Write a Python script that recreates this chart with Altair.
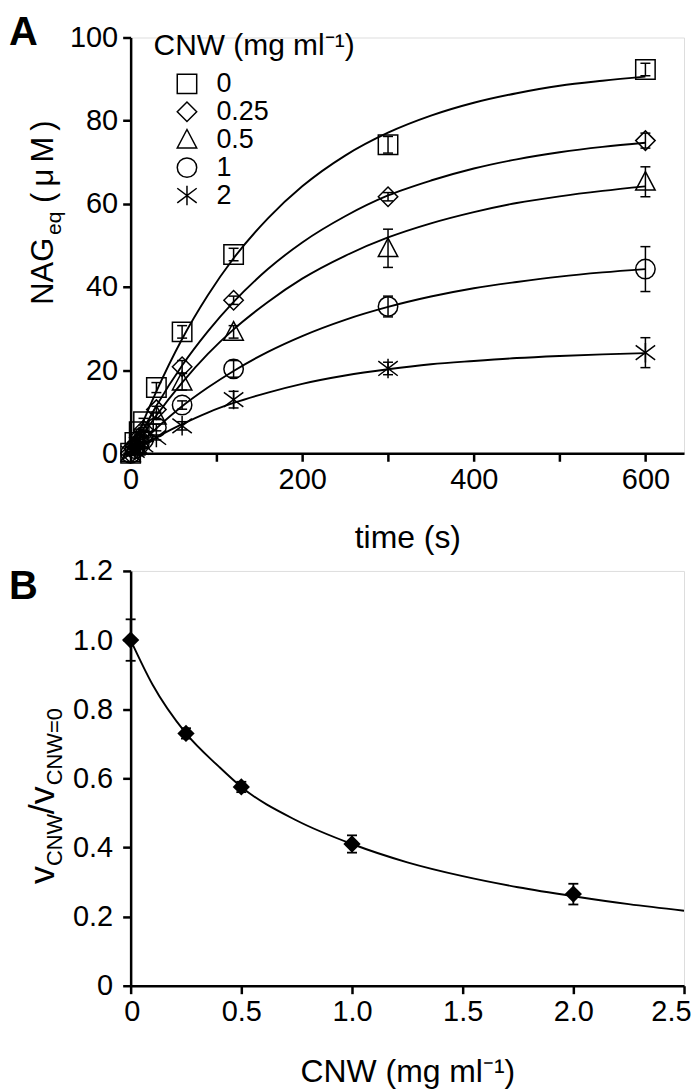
import altair as alt
import pandas as pd

FONT = "Liberation Sans"

# ---------------- Panel A data ----------------
conc_labels = ["0", "0.25", "0.5", "1", "2"]
times = [0, 5, 10, 15, 30, 60, 120, 300, 600]
nag_c0 = [0, 2.6, 5.2, 7.6, 15.8, 29.2, 47.8, 74.2, 92.3]
nag_c025 = [0, 1.9, 3.8, 5.6, 10.5, 20.8, 36.8, 61.7, 75.2]
nag_c05 = [0, 1.6, 3.2, 4.8, 9.0, 17.2, 29.2, 49.3, 65.3]
nag_c1 = [0, 1.1, 2.2, 3.3, 6.2, 11.6, 20.3, 35.3, 44.3]
nag_c2 = [0, 0.7, 1.4, 2.0, 3.8, 6.6, 12.9, 20.4, 24.2]
err_c0 = [0.4, 0.5, 0.6, 0.8, 1.2, 1.5, 1.5, 2.0, 1.5]
err_c025 = [0.4, 0.4, 0.5, 0.6, 0.8, 1.5, 1.0, 1.0, 1.8]
err_c05 = [0.4, 0.4, 0.5, 0.6, 0.9, 2.0, 1.5, 4.6, 3.6]
err_c1 = [0.4, 0.4, 0.5, 0.6, 0.8, 1.0, 2.0, 2.5, 5.4]
err_c2 = [0.3, 0.4, 0.4, 0.5, 0.6, 1.0, 2.0, 1.5, 3.6]

fit_t = [0, 15, 30, 60, 90, 120, 160, 200, 250, 300, 350, 400, 450, 500, 550, 600]
fit_c0 = [0, 7.8, 14.9, 27.5, 38.0, 46.9, 56.5, 64.2, 71.6, 77.1, 81.2, 84.3, 86.6, 88.4, 89.6, 90.6]
fit_c025 = [0, 5.9, 11.4, 21.1, 29.3, 36.4, 44.3, 50.7, 57.0, 62.0, 65.6, 68.5, 70.7, 72.4, 73.7, 74.7]
fit_c05 = [0, 4.7, 9.1, 17.0, 23.9, 29.8, 36.4, 42.0, 47.5, 51.9, 55.3, 58.0, 60.2, 61.8, 63.1, 64.2]
fit_c1 = [0, 3.1, 6.0, 11.3, 15.8, 19.8, 24.4, 28.2, 32.1, 35.2, 37.7, 39.7, 41.2, 42.5, 43.5, 44.3]
fit_c2 = [0, 2.0, 3.8, 7.0, 9.8, 12.1, 14.6, 16.7, 18.7, 20.2, 21.4, 22.2, 22.9, 23.4, 23.8, 24.1]

# ---------------- Panel B data ----------------
cnw = [0, 0.25, 0.5, 1.0, 2.0]
ratio = [1.0, 0.73, 0.575, 0.41, 0.265]
ratio_err = [0.06, 0.015, 0.015, 0.025, 0.03]
fitB_x = [0, 0.1, 0.25, 0.4, 0.5, 0.75, 1.0, 1.25, 1.5, 1.75, 2.0, 2.25, 2.5]
fitB_y = [1.0, 0.87, 0.73, 0.633, 0.575, 0.478, 0.41, 0.357, 0.317, 0.285, 0.259, 0.236, 0.217]

shape_range = [
    "square",
    "diamond",
    "M0,-1.05L-1,0.85L1,0.85Z",
    "circle",
    "M-1,-0.75L1,0.75M-1,0.75L1,-0.75M0,-1L0,1",
]

# ---------------- tables ----------------
rowsA = []
for lab, vals, errs in zip(conc_labels, [nag_c0, nag_c025, nag_c05, nag_c1, nag_c2],
                           [err_c0, err_c025, err_c05, err_c1, err_c2]):
    for t, v, e in zip(times, vals, errs):
        rowsA.append(dict(series=lab, t=t, v=v, lo=v - e, hi=v + e))
dfA = pd.DataFrame(rowsA)
capsA = pd.concat([dfA.assign(c=dfA["lo"]), dfA.assign(c=dfA["hi"])], ignore_index=True)

rowsF = []
for lab, vals in zip(conc_labels, [fit_c0, fit_c025, fit_c05, fit_c1, fit_c2]):
    for t, v in zip(fit_t, vals):
        rowsF.append(dict(series=lab, t=t, v=v))
fitA = pd.DataFrame(rowsF)

dfB = pd.DataFrame(dict(c=cnw, r=ratio, lo=[r - e for r, e in zip(ratio, ratio_err)],
                        hi=[r + e for r, e in zip(ratio, ratio_err)]))
capsB = pd.concat([dfB.assign(k=dfB["lo"]), dfB.assign(k=dfB["hi"])], ignore_index=True)
fitB = pd.DataFrame(dict(c=fitB_x, r=fitB_y))

AX = dict(domainColor="black", domainWidth=2.5, tickColor="black", tickWidth=2.5,
          tickSize=8, labelColor="black", labelFont=FONT, labelFontSize=29,
          titleFont=FONT, titleColor="black", titleFontWeight="normal", grid=False)

# ---------------- Panel A ----------------
WA, HA = 555, 417
xA_scale = alt.Scale(domain=[0, 645], nice=False, zero=False)
yA_scale = alt.Scale(domain=[0, 100], nice=False)
xA_axis = alt.Axis(values=[0, 100, 200, 300, 400, 500, 600],
                   labelExpr="datum.value % 200 == 0 ? datum.label : ''", labelFlush=False,
                   title="time (s)", titleFontSize=32, titlePadding=28, labelPadding=4, **AX)
yA_axis = alt.Axis(values=[0, 20, 40, 60, 80, 100], title=None, labelPadding=5,
                   labelFlush=False, **AX)


def XA(field="t"):
    return alt.X(f"{field}:Q", scale=xA_scale, axis=xA_axis)


def YA(field):
    return alt.Y(f"{field}:Q", scale=yA_scale, axis=yA_axis)


linesA = alt.Chart(fitA).mark_line(color="black", strokeWidth=1.9, interpolate="monotone").encode(
    x=XA(), y=YA("v"), detail="series:N")
rulesA = alt.Chart(dfA).mark_rule(color="black", strokeWidth=1.5).encode(
    x=XA(), y=YA("lo"), y2="hi:Q")
capsA_l = alt.Chart(capsA).mark_point(shape="M-1,0L1,0", size=100, color="black",
                                      strokeWidth=1.5, opacity=1).encode(x=XA(), y=YA("c"))
pointsA = alt.Chart(dfA).mark_point(filled=False, color="black", strokeWidth=1.5, size=380,
                                    opacity=1).encode(
    x=XA(), y=YA("v"),
    shape=alt.Shape("series:N", scale=alt.Scale(domain=conc_labels, range=shape_range),
                    sort=conc_labels,
                    legend=alt.Legend(title="CNW (mg ml⁻¹)", orient="none", legendX=23, legendY=-6,
                                      titleFont=FONT, titleFontSize=30, titleFontWeight="normal",
                                      titleColor="black", titleLimit=400, labelFont=FONT,
                                      labelFontSize=27, labelColor="black", labelLimit=200,
                                      symbolSize=380, symbolStrokeWidth=1.5,
                                      symbolStrokeColor="black", symbolFillColor="transparent",
                                      symbolOffset=20, labelOffset=16, rowPadding=0,
                                      titlePadding=9, padding=0)))


def txt(s, x, y, size, angle=None, weight="normal", align="left"):
    kw = dict(fontSize=size, font=FONT, color="black", align=align, baseline="alphabetic",
              fontWeight=weight)
    if angle is not None:
        kw["angle"] = angle
    return alt.Chart(pd.DataFrame({"s": [s]})).mark_text(**kw).encode(
        text="s:N", x=alt.value(x), y=alt.value(y))


labelA = txt("A", -122, 8, 40, weight="bold")
ytA = [txt("NAG", -78, 268, 31, angle=270),
       txt("eq", -70, 198, 21, angle=270),
       txt("(\u2009μ\u2009M\u2009)", -78, 166, 31, angle=270)]

panelA = alt.layer(linesA, rulesA, capsA_l, pointsA, labelA, *ytA).properties(width=WA, height=HA)

# ---------------- Panel B ----------------
WB, HB = 555, 416
xB_scale = alt.Scale(domain=[0, 2.5], nice=False, zero=False)
yB_scale = alt.Scale(domain=[0, 1.2], nice=False)
xB_axis = alt.Axis(values=[0, 0.5, 1.0, 1.5, 2.0, 2.5],
                   labelExpr="datum.value == 0 ? '0' : format(datum.value, '.1f')",
                   labelFlush=True, labelFlushOffset=7,
                   title="CNW (mg ml⁻¹)", titleFontSize=32, titlePadding=30, labelPadding=4, **AX)
yB_axis = alt.Axis(values=[0, 0.2, 0.4, 0.6, 0.8, 1.0, 1.2],
                   labelExpr="datum.value == 0 ? '0' : format(datum.value, '.1f')",
                   title=None, labelPadding=10, labelFlush=False, **AX)


def XB(field="c"):
    return alt.X(f"{field}:Q", scale=xB_scale, axis=xB_axis)


def YB(field):
    return alt.Y(f"{field}:Q", scale=yB_scale, axis=yB_axis)


lineB = alt.Chart(fitB).mark_line(color="black", strokeWidth=1.9, interpolate="monotone").encode(
    x=XB(), y=YB("r"))
rulesB = alt.Chart(dfB).mark_rule(color="black", strokeWidth=1.8).encode(x=XB(), y=YB("lo"), y2="hi:Q")
capsB_l = alt.Chart(capsB).mark_point(shape="M-1,0L1,0", size=100, color="black",
                                      strokeWidth=1.8, opacity=1).encode(x=XB(), y=YB("k"))
pointsB = alt.Chart(dfB).mark_point(shape="diamond", filled=True, color="black", size=300,
                                    opacity=1).encode(x=XB(), y=YB("r"))
labelB = txt("B", -122, 28, 40, weight="bold")
ytB = [txt("v", -77, 314, 36, angle=270),
       txt("CNW", -69, 296, 22, angle=270),
       txt("/", -77, 244, 36, angle=270),
       txt("v", -77, 234, 36, angle=270),
       txt("CNW=0", -69, 215, 22, angle=270)]

panelB = alt.layer(lineB, rulesB, capsB_l, pointsB, labelB, *ytB).properties(width=WB, height=HB)

chart = alt.vconcat(panelA, panelB, spacing=2).properties(
    padding={"left": 0, "top": 3, "right": 0, "bottom": 0}
).configure_view(stroke="transparent").configure(font=FONT)

chart.save("out.html", embed_options={"renderer": "svg", "actions": False})
